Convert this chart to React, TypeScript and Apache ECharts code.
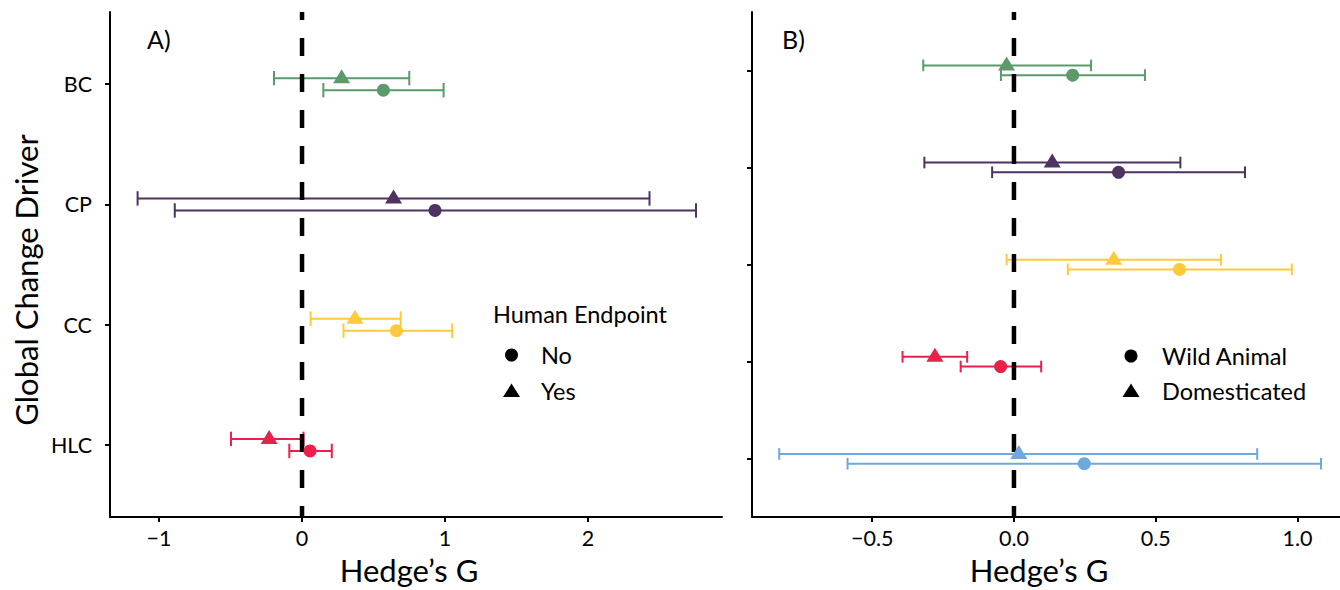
import React, { useEffect, useRef } from 'react';
import * as echarts from 'echarts';

// ---- Panel A: Human Endpoint (rows bottom -> top) ----
const leftCategories = ['HLC', 'CC', 'CP', 'BC'];
const leftColors = ['#E8204A', '#FFC93C', '#4E3262', '#5C9A6C'];
const leftYesMean = [-0.23, 0.37, 0.64, 0.277];
const leftYesLow = [-0.497, 0.06, -1.15, -0.196];
const leftYesHigh = [0.01, 0.69, 2.43, 0.75];
const leftNoMean = [0.056, 0.66, 0.93, 0.569];
const leftNoLow = [-0.089, 0.29, -0.89, 0.149];
const leftNoHigh = [0.208, 1.05, 2.755, 0.99];
const leftXTicks = [-1, 0, 1, 2];

// ---- Panel B: Wild vs Domesticated (rows bottom -> top, unlabelled) ----
const rightColors = ['#6FA8DC', '#E8204A', '#FFC93C', '#4E3262', '#5C9A6C'];
const rightDomMean = [0.017, -0.279, 0.352, 0.135, -0.026];
const rightDomLow = [-0.828, -0.393, -0.026, -0.316, -0.32];
const rightDomHigh = [0.858, -0.165, 0.73, 0.587, 0.272];
const rightWildMean = [0.248, -0.047, 0.584, 0.369, 0.207];
const rightWildLow = [-0.587, -0.188, 0.19, -0.077, -0.046];
const rightWildHigh = [1.083, 0.096, 0.98, 0.815, 0.462];
const rightXTicks = [-0.5, 0, 0.5, 1.0];

const leftLegendTitle = 'Human Endpoint';
const leftLegendLabels = ['No', 'Yes'];
const rightLegendLabels = ['Wild Animal', 'Domesticated'];
const panelLabels = ['A)', 'B)'];
const xTitle = 'Hedge\u2019s G';
const yTitle = 'Global Change Driver';

const FONT = 'Lato';
const DODGE = 0.05;
const CAP = 0.06;

const minus = (s: string) => s.replace('-', '\u2212');

function errorBarSeries(
  xi: number,
  low: number[],
  high: number[],
  colors: string[],
  offset: number
) {
  return {
    type: 'custom',
    xAxisIndex: xi,
    yAxisIndex: xi,
    z: 2,
    silent: true,
    encode: { x: [0, 1], y: 2 },
    data: low.map((l, i) => [l, high[i], i + 1 + offset, i]),
    renderItem: (params: any, api: any) => {
      const lo = api.value(0);
      const hi = api.value(1);
      const y = api.value(2);
      const color = colors[api.value(3)];
      const a = api.coord([lo, y]);
      const b = api.coord([hi, y]);
      const h = api.size([0, CAP])[1];
      const style = { stroke: color, lineWidth: 2 };
      return {
        type: 'group',
        children: [
          { type: 'line', shape: { x1: a[0], y1: a[1], x2: b[0], y2: b[1] }, style },
          { type: 'line', shape: { x1: a[0], y1: a[1] - h, x2: a[0], y2: a[1] + h }, style },
          { type: 'line', shape: { x1: b[0], y1: b[1] - h, x2: b[0], y2: b[1] + h }, style },
        ],
      };
    },
  };
}

function pointSeries(
  xi: number,
  name: string,
  mean: number[],
  colors: string[],
  offset: number,
  triangle: boolean
) {
  return {
    type: 'scatter',
    name,
    xAxisIndex: xi,
    yAxisIndex: xi,
    z: 4,
    symbol: triangle ? 'triangle' : 'circle',
    symbolSize: triangle ? [17, 14] : 13,
    symbolOffset: triangle ? [0, -2] : [0, 0],
    itemStyle: { color: '#000', opacity: 1 },
    data: mean.map((m, i) => ({
      value: [m, i + 1 + offset],
      itemStyle: { color: colors[i] },
    })),
  };
}

function zeroLine(xi: number, ymin: number, ymax: number) {
  return {
    type: 'line',
    xAxisIndex: xi,
    yAxisIndex: xi,
    z: 3,
    symbol: 'none',
    silent: true,
    data: [
      [0, ymax],
      [0, ymin],
    ],
    lineStyle: { color: '#000', width: 4.5, type: [18, 18], dashOffset: 10 },
  };
}

function legendGraphic(x: number, textX: number, yNo: number, yYes: number, labels: string[]) {
  const font = { fontFamily: FONT, fontSize: 23.5, fill: '#000' };
  return [
    { type: 'circle', shape: { cx: x, cy: yNo, r: 6.5 }, style: { fill: '#000' } },
    {
      type: 'polygon',
      shape: { points: [[x, yYes - 7.5], [x - 8.5, yYes + 6], [x + 8.5, yYes + 6]] },
      style: { fill: '#000' },
    },
    { type: 'text', x: textX, y: yNo, style: { ...font, text: labels[0], verticalAlign: 'middle' } },
    { type: 'text', x: textX, y: yYes, style: { ...font, text: labels[1], verticalAlign: 'middle' } },
  ];
}

export default function App() {
  const ref = useRef<HTMLDivElement>(null);
  useEffect(() => {
    document.body.style.margin = '0';
    const chart = echarts.init(ref.current!, null, { renderer: 'svg' });
    const axisLine = { show: true, onZero: false, lineStyle: { color: '#000', width: 2 } };
    const labelStyle = { color: '#000', fontFamily: FONT, fontSize: 21.5 };
    const nameStyle = { color: '#000', fontFamily: FONT, fontSize: 31 };
    chart.setOption({
      animation: false,
      backgroundColor: '#fff',
      grid: [
        { left: 110, top: 12, width: 612, height: 508 },
        { left: 752, top: 12, width: 588, height: 508 },
      ],
      xAxis: [
        {
          gridIndex: 0,
          type: 'value',
          min: -1.343,
          max: 2.937,
          axisLine,
          splitLine: { show: false },
          axisTick: { customValues: leftXTicks, length: 5, lineStyle: { color: '#000', width: 2 } },
          axisLabel: {
            customValues: leftXTicks,
            margin: 10,
            ...labelStyle,
            formatter: (v: number) => minus(String(v)),
          },
          name: xTitle,
          nameLocation: 'middle',
          nameGap: 35,
          nameTextStyle: { ...nameStyle, padding: [0, 14, 0, 0] },
        },
        {
          gridIndex: 1,
          type: 'value',
          min: -0.924,
          max: 1.15,
          axisLine,
          splitLine: { show: false },
          axisTick: { customValues: rightXTicks, length: 5, lineStyle: { color: '#000', width: 2 } },
          axisLabel: {
            customValues: rightXTicks,
            margin: 10,
            ...labelStyle,
            formatter: (v: number) => minus(v.toFixed(1)),
          },
          name: xTitle,
          nameLocation: 'middle',
          nameGap: 35,
          nameTextStyle: { ...nameStyle, padding: [0, 14, 0, 0] },
        },
      ],
      yAxis: [
        {
          gridIndex: 0,
          type: 'value',
          min: 0.4,
          max: 4.6,
          axisLine,
          splitLine: { show: false },
          axisTick: { customValues: [1, 2, 3, 4], length: 5, lineStyle: { color: '#000', width: 2 } },
          axisLabel: {
            customValues: [1, 2, 3, 4],
            margin: 18,
            ...labelStyle,
            formatter: (v: number) => leftCategories[Math.round(v) - 1] ?? '',
          },
        },
        {
          gridIndex: 1,
          type: 'value',
          min: 0.4,
          max: 5.6,
          axisLine,
          splitLine: { show: false },
          axisTick: { customValues: [1, 2, 3, 4, 5], length: 5, lineStyle: { color: '#000', width: 2 } },
          axisLabel: { show: false },
        },
      ],
      series: [
        errorBarSeries(0, leftYesLow, leftYesHigh, leftColors, DODGE),
        errorBarSeries(0, leftNoLow, leftNoHigh, leftColors, -DODGE),
        zeroLine(0, 0.4, 4.6),
        pointSeries(0, leftLegendLabels[1], leftYesMean, leftColors, DODGE, true),
        pointSeries(0, leftLegendLabels[0], leftNoMean, leftColors, -DODGE, false),
        errorBarSeries(1, rightDomLow, rightDomHigh, rightColors, DODGE),
        errorBarSeries(1, rightWildLow, rightWildHigh, rightColors, -DODGE),
        zeroLine(1, 0.4, 5.6),
        pointSeries(1, rightLegendLabels[1], rightDomMean, rightColors, DODGE, true),
        pointSeries(1, rightLegendLabels[0], rightWildMean, rightColors, -DODGE, false),
      ],
      graphic: [
        {
          type: 'text',
          x: 26,
          y: 280,
          rotation: Math.PI / 2,
          style: {
            text: yTitle,
            fontFamily: FONT,
            fontSize: 31,
            fill: '#000',
            align: 'center',
            verticalAlign: 'middle',
          },
        },
        {
          type: 'text',
          x: 147,
          y: 39,
          style: { text: panelLabels[0], fontFamily: FONT, fontSize: 25, fill: '#000', verticalAlign: 'middle' },
        },
        {
          type: 'text',
          x: 782,
          y: 39,
          style: { text: panelLabels[1], fontFamily: FONT, fontSize: 25, fill: '#000', verticalAlign: 'middle' },
        },
        {
          type: 'text',
          x: 493,
          y: 314,
          style: { text: leftLegendTitle, fontFamily: FONT, fontSize: 23.5, fill: '#000', verticalAlign: 'middle' },
        },
        ...legendGraphic(511.5, 541, 355, 391, leftLegendLabels),
        ...legendGraphic(1131, 1162, 356, 391, rightLegendLabels),
      ],
    });
    return () => chart.dispose();
  }, []);
  return <div ref={ref} style={{ width: 1340, height: 590 }} />;
}
